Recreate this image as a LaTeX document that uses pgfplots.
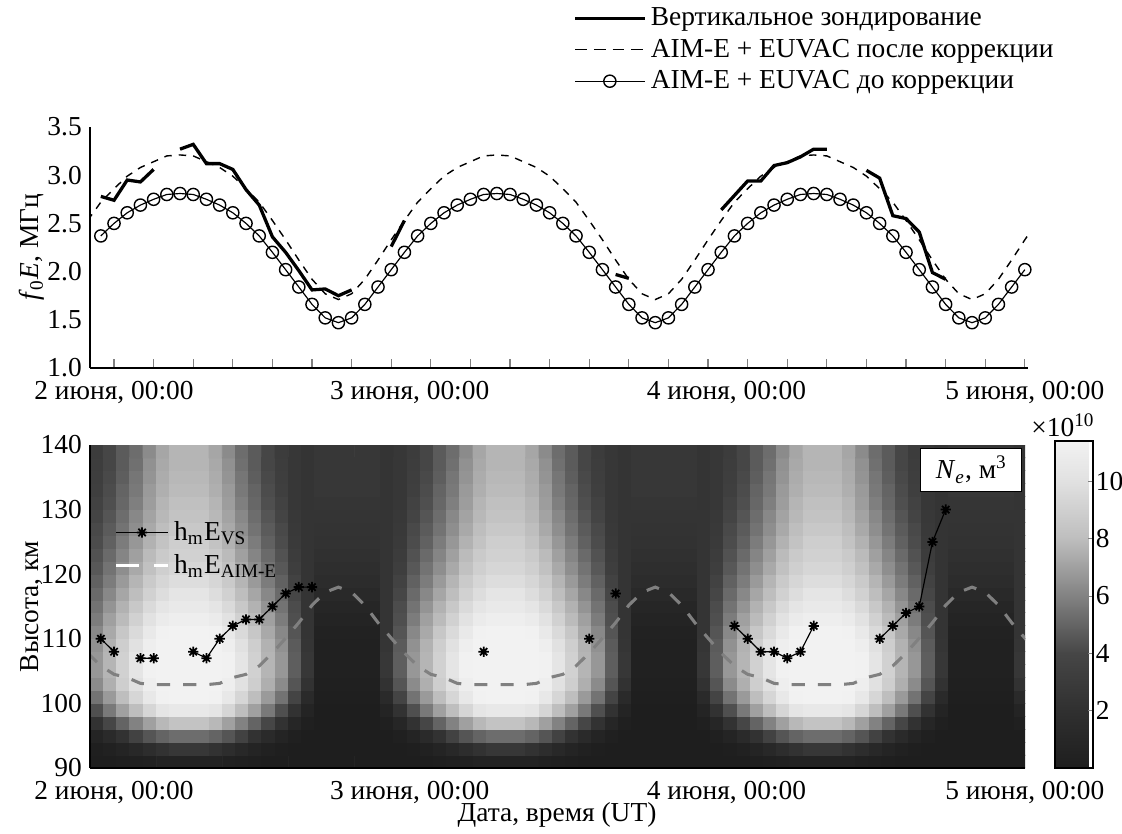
\documentclass[border=0pt]{standalone}
\usepackage{fontspec}
\setmainfont{Liberation Serif}
\usepackage{pgfplots}
\pgfplotsset{compat=1.18}
\usepackage{pgfplotstable}
\pgfplotsset{/pgf/number format/assume math mode=true}

% 8-armed asterisk like the MATLAB '*'
\pgfdeclareplotmark{ast8}{%
  \pgfpathmoveto{\pgfqpoint{-\pgfplotmarksize}{0pt}}\pgfpathlineto{\pgfqpoint{\pgfplotmarksize}{0pt}}%
  \pgfpathmoveto{\pgfqpoint{0pt}{-\pgfplotmarksize}}\pgfpathlineto{\pgfqpoint{0pt}{\pgfplotmarksize}}%
  \pgfpathmoveto{\pgfqpoint{-0.707\pgfplotmarksize}{-0.707\pgfplotmarksize}}\pgfpathlineto{\pgfqpoint{0.707\pgfplotmarksize}{0.707\pgfplotmarksize}}%
  \pgfpathmoveto{\pgfqpoint{-0.707\pgfplotmarksize}{0.707\pgfplotmarksize}}\pgfpathlineto{\pgfqpoint{0.707\pgfplotmarksize}{-0.707\pgfplotmarksize}}%
  \pgfusepathqstroke}

% one day of Ne (x10^10 m^-3): hour, height, value
\pgfplotstableread[row sep=\\]{
x y c\\
-1.3 91 0\\ -0.3 91 0\\ 0.7 91 0.1\\ 1.7 91 0.2\\ 2.7 91 0.3\\ 3.7 91 0.6\\ 4.7 91 0.6\\ 5.7 91 0.6\\ 6.7 91 0.6\\ 7.7 91 0.6\\ 8.7 91 0.3\\ 9.7 91 0.2\\ 10.7 91 0.1\\ 11.7 91 0\\ 12.7 91 0\\ 13.7 91 0\\ 14.7 91 0\\ 15.7 91 0\\ 16.7 91 0\\ 17.7 91 0\\ 18.7 91 0\\ 19.7 91 0\\ 20.7 91 0\\ 21.7 91 0\\
-1.3 93 0.1\\ -0.3 93 0.3\\ 0.7 93 0.7\\ 1.7 93 1.1\\ 2.7 93 1.7\\ 3.7 93 2.2\\ 4.7 93 2.6\\ 5.7 93 2.6\\ 6.7 93 2.6\\ 7.7 93 2.2\\ 8.7 93 1.7\\ 9.7 93 1.1\\ 10.7 93 0.7\\ 11.7 93 0.3\\ 12.7 93 0.1\\ 13.7 93 0\\ 14.7 93 0\\ 15.7 93 0\\ 16.7 93 0\\ 17.7 93 0\\ 18.7 93 0\\ 19.7 93 0\\ 20.7 93 0\\ 21.7 93 0\\
-1.3 95 0.7\\ -0.3 95 1.3\\ 0.7 95 2.2\\ 1.7 95 3.6\\ 2.7 95 4.5\\ 3.7 95 5.0\\ 4.7 95 5.3\\ 5.7 95 5.3\\ 6.7 95 5.3\\ 7.7 95 5.0\\ 8.7 95 4.5\\ 9.7 95 3.6\\ 10.7 95 2.2\\ 11.7 95 1.3\\ 12.7 95 0.7\\ 13.7 95 0.2\\ 14.7 95 0\\ 15.7 95 0\\ 16.7 95 0\\ 17.7 95 0\\ 18.7 95 0\\ 19.7 95 0\\ 20.7 95 0\\ 21.7 95 0.2\\
-1.3 97 2.2\\ -0.3 97 4.0\\ 0.7 97 5.0\\ 1.7 97 6.0\\ 2.7 97 7.0\\ 3.7 97 7.8\\ 4.7 97 8.3\\ 5.7 97 8.3\\ 6.7 97 8.3\\ 7.7 97 7.8\\ 8.7 97 7.0\\ 9.7 97 6.0\\ 10.7 97 5.0\\ 11.7 97 4.0\\ 12.7 97 2.2\\ 13.7 97 0.9\\ 14.7 97 0.2\\ 15.7 97 0\\ 16.7 97 0\\ 17.7 97 0\\ 18.7 97 0\\ 19.7 97 0\\ 20.7 97 0.2\\ 21.7 97 0.9\\
-1.3 99 4.3\\ -0.3 99 5.7\\ 0.7 99 7.0\\ 1.7 99 8.0\\ 2.7 99 9.4\\ 3.7 99 10.3\\ 4.7 99 10.6\\ 5.7 99 10.6\\ 6.7 99 10.6\\ 7.7 99 10.3\\ 8.7 99 9.4\\ 9.7 99 8.0\\ 10.7 99 7.0\\ 11.7 99 5.7\\ 12.7 99 4.3\\ 13.7 99 2.2\\ 14.7 99 0.7\\ 15.7 99 0\\ 16.7 99 0\\ 17.7 99 0\\ 18.7 99 0\\ 19.7 99 0\\ 20.7 99 0.7\\ 21.7 99 2.2\\
-1.3 101 5.5\\ -0.3 101 6.8\\ 0.7 101 8.0\\ 1.7 101 9.4\\ 2.7 101 10.6\\ 3.7 101 11.3\\ 4.7 101 11.4\\ 5.7 101 11.4\\ 6.7 101 11.4\\ 7.7 101 11.3\\ 8.7 101 10.6\\ 9.7 101 9.4\\ 10.7 101 8.0\\ 11.7 101 6.8\\ 12.7 101 5.5\\ 13.7 101 3.8\\ 14.7 101 1.3\\ 15.7 101 0.1\\ 16.7 101 0.1\\ 17.7 101 0.1\\ 18.7 101 0.1\\ 19.7 101 0.1\\ 20.7 101 1.3\\ 21.7 101 3.8\\
-1.3 103 6.3\\ -0.3 103 7.5\\ 0.7 103 8.9\\ 1.7 103 10.0\\ 2.7 103 11.1\\ 3.7 103 11.4\\ 4.7 103 11.4\\ 5.7 103 11.4\\ 6.7 103 11.4\\ 7.7 103 11.4\\ 8.7 103 11.1\\ 9.7 103 10.0\\ 10.7 103 8.9\\ 11.7 103 7.5\\ 12.7 103 6.3\\ 13.7 103 4.5\\ 14.7 103 2.2\\ 15.7 103 0.2\\ 16.7 103 0.2\\ 17.7 103 0.2\\ 18.7 103 0.2\\ 19.7 103 0.2\\ 20.7 103 2.2\\ 21.7 103 4.5\\
-1.3 105 6.7\\ -0.3 105 7.7\\ 0.7 105 9.1\\ 1.7 105 10.3\\ 2.7 105 11.3\\ 3.7 105 11.4\\ 4.7 105 11.4\\ 5.7 105 11.4\\ 6.7 105 11.4\\ 7.7 105 11.4\\ 8.7 105 11.3\\ 9.7 105 10.3\\ 10.7 105 9.1\\ 11.7 105 7.7\\ 12.7 105 6.7\\ 13.7 105 4.8\\ 14.7 105 2.6\\ 15.7 105 0.3\\ 16.7 105 0.3\\ 17.7 105 0.3\\ 18.7 105 0.3\\ 19.7 105 0.3\\ 20.7 105 2.6\\ 21.7 105 4.8\\
-1.3 107 6.7\\ -0.3 107 7.7\\ 0.7 107 9.1\\ 1.7 107 10.3\\ 2.7 107 11.3\\ 3.7 107 11.4\\ 4.7 107 11.4\\ 5.7 107 11.4\\ 6.7 107 11.4\\ 7.7 107 11.4\\ 8.7 107 11.3\\ 9.7 107 10.3\\ 10.7 107 9.1\\ 11.7 107 7.7\\ 12.7 107 6.7\\ 13.7 107 4.8\\ 14.7 107 2.6\\ 15.7 107 0.3\\ 16.7 107 0.3\\ 17.7 107 0.3\\ 18.7 107 0.3\\ 19.7 107 0.3\\ 20.7 107 2.6\\ 21.7 107 4.8\\
-1.3 109 6.5\\ -0.3 109 7.6\\ 0.7 109 8.9\\ 1.7 109 10.0\\ 2.7 109 11.1\\ 3.7 109 11.4\\ 4.7 109 11.4\\ 5.7 109 11.4\\ 6.7 109 11.4\\ 7.7 109 11.4\\ 8.7 109 11.1\\ 9.7 109 10.0\\ 10.7 109 8.9\\ 11.7 109 7.6\\ 12.7 109 6.5\\ 13.7 109 4.7\\ 14.7 109 2.5\\ 15.7 109 0.3\\ 16.7 109 0.3\\ 17.7 109 0.3\\ 18.7 109 0.3\\ 19.7 109 0.3\\ 20.7 109 2.5\\ 21.7 109 4.7\\
-1.3 111 6.2\\ -0.3 111 7.3\\ 0.7 111 8.5\\ 1.7 111 9.6\\ 2.7 111 10.7\\ 3.7 111 11.3\\ 4.7 111 11.4\\ 5.7 111 11.4\\ 6.7 111 11.4\\ 7.7 111 11.3\\ 8.7 111 10.7\\ 9.7 111 9.6\\ 10.7 111 8.5\\ 11.7 111 7.3\\ 12.7 111 6.2\\ 13.7 111 4.5\\ 14.7 111 2.4\\ 15.7 111 0.4\\ 16.7 111 0.4\\ 17.7 111 0.4\\ 18.7 111 0.4\\ 19.7 111 0.4\\ 20.7 111 2.4\\ 21.7 111 4.5\\
-1.3 113 5.8\\ -0.3 113 7.0\\ 0.7 113 7.9\\ 1.7 113 9.1\\ 2.7 113 10.1\\ 3.7 113 10.8\\ 4.7 113 11.1\\ 5.7 113 11.1\\ 6.7 113 11.1\\ 7.7 113 10.8\\ 8.7 113 10.1\\ 9.7 113 9.1\\ 10.7 113 7.9\\ 11.7 113 7.0\\ 12.7 113 5.8\\ 13.7 113 4.3\\ 14.7 113 2.4\\ 15.7 113 0.7\\ 16.7 113 0.7\\ 17.7 113 0.7\\ 18.7 113 0.7\\ 19.7 113 0.7\\ 20.7 113 2.4\\ 21.7 113 4.3\\
-1.3 115 5.5\\ -0.3 115 6.6\\ 0.7 115 7.6\\ 1.7 115 8.6\\ 2.7 115 9.6\\ 3.7 115 10.3\\ 4.7 115 10.7\\ 5.7 115 10.7\\ 6.7 115 10.7\\ 7.7 115 10.3\\ 8.7 115 9.6\\ 9.7 115 8.6\\ 10.7 115 7.6\\ 11.7 115 6.6\\ 12.7 115 5.5\\ 13.7 115 4.2\\ 14.7 115 2.4\\ 15.7 115 0.9\\ 16.7 115 0.9\\ 17.7 115 0.9\\ 18.7 115 0.9\\ 19.7 115 0.9\\ 20.7 115 2.4\\ 21.7 115 4.2\\
-1.3 117 5.2\\ -0.3 117 6.2\\ 0.7 117 7.2\\ 1.7 117 8.0\\ 2.7 117 9.1\\ 3.7 117 9.8\\ 4.7 117 10.3\\ 5.7 117 10.3\\ 6.7 117 10.3\\ 7.7 117 9.8\\ 8.7 117 9.1\\ 9.7 117 8.0\\ 10.7 117 7.2\\ 11.7 117 6.2\\ 12.7 117 5.2\\ 13.7 117 4.0\\ 14.7 117 2.4\\ 15.7 117 1.2\\ 16.7 117 1.2\\ 17.7 117 1.2\\ 18.7 117 1.2\\ 19.7 117 1.2\\ 20.7 117 2.4\\ 21.7 117 4.0\\
-1.3 119 4.9\\ -0.3 119 5.8\\ 0.7 119 6.8\\ 1.7 119 7.7\\ 2.7 119 8.7\\ 3.7 119 9.4\\ 4.7 119 9.8\\ 5.7 119 9.8\\ 6.7 119 9.8\\ 7.7 119 9.4\\ 8.7 119 8.7\\ 9.7 119 7.7\\ 10.7 119 6.8\\ 11.7 119 5.8\\ 12.7 119 4.9\\ 13.7 119 3.6\\ 14.7 119 2.4\\ 15.7 119 1.6\\ 16.7 119 1.6\\ 17.7 119 1.6\\ 18.7 119 1.6\\ 19.7 119 1.6\\ 20.7 119 2.4\\ 21.7 119 3.6\\
-1.3 121 4.6\\ -0.3 121 5.5\\ 0.7 121 6.4\\ 1.7 121 7.3\\ 2.7 121 8.2\\ 3.7 121 9.0\\ 4.7 121 9.4\\ 5.7 121 9.4\\ 6.7 121 9.4\\ 7.7 121 9.0\\ 8.7 121 8.2\\ 9.7 121 7.3\\ 10.7 121 6.4\\ 11.7 121 5.5\\ 12.7 121 4.6\\ 13.7 121 3.3\\ 14.7 121 2.4\\ 15.7 121 1.8\\ 16.7 121 1.8\\ 17.7 121 1.8\\ 18.7 121 1.8\\ 19.7 121 1.8\\ 20.7 121 2.4\\ 21.7 121 3.3\\
-1.3 123 4.4\\ -0.3 123 5.2\\ 0.7 123 6.1\\ 1.7 123 7.0\\ 2.7 123 7.9\\ 3.7 123 8.7\\ 4.7 123 9.1\\ 5.7 123 9.1\\ 6.7 123 9.1\\ 7.7 123 8.7\\ 8.7 123 7.9\\ 9.7 123 7.0\\ 10.7 123 6.1\\ 11.7 123 5.2\\ 12.7 123 4.4\\ 13.7 123 3.1\\ 14.7 123 2.4\\ 15.7 123 2.0\\ 16.7 123 2.0\\ 17.7 123 2.0\\ 18.7 123 2.0\\ 19.7 123 2.0\\ 20.7 123 2.4\\ 21.7 123 3.1\\
-1.3 125 4.2\\ -0.3 125 4.9\\ 0.7 125 5.8\\ 1.7 125 6.7\\ 2.7 125 7.6\\ 3.7 125 8.3\\ 4.7 125 8.9\\ 5.7 125 8.9\\ 6.7 125 8.9\\ 7.7 125 8.3\\ 8.7 125 7.6\\ 9.7 125 6.7\\ 10.7 125 5.8\\ 11.7 125 4.9\\ 12.7 125 4.2\\ 13.7 125 2.9\\ 14.7 125 2.4\\ 15.7 125 2.2\\ 16.7 125 2.2\\ 17.7 125 2.2\\ 18.7 125 2.2\\ 19.7 125 2.2\\ 20.7 125 2.4\\ 21.7 125 2.9\\
-1.3 127 4.1\\ -0.3 127 4.7\\ 0.7 127 5.5\\ 1.7 127 6.4\\ 2.7 127 7.3\\ 3.7 127 8.0\\ 4.7 127 8.6\\ 5.7 127 8.6\\ 6.7 127 8.6\\ 7.7 127 8.0\\ 8.7 127 7.3\\ 9.7 127 6.4\\ 10.7 127 5.5\\ 11.7 127 4.7\\ 12.7 127 4.1\\ 13.7 127 2.8\\ 14.7 127 2.4\\ 15.7 127 2.3\\ 16.7 127 2.3\\ 17.7 127 2.3\\ 18.7 127 2.3\\ 19.7 127 2.3\\ 20.7 127 2.4\\ 21.7 127 2.8\\
-1.3 129 3.8\\ -0.3 129 4.5\\ 0.7 129 5.3\\ 1.7 129 6.2\\ 2.7 129 7.1\\ 3.7 129 7.8\\ 4.7 129 8.3\\ 5.7 129 8.3\\ 6.7 129 8.3\\ 7.7 129 7.8\\ 8.7 129 7.1\\ 9.7 129 6.2\\ 10.7 129 5.3\\ 11.7 129 4.5\\ 12.7 129 3.8\\ 13.7 129 2.7\\ 14.7 129 2.4\\ 15.7 129 2.4\\ 16.7 129 2.4\\ 17.7 129 2.4\\ 18.7 129 2.4\\ 19.7 129 2.4\\ 20.7 129 2.4\\ 21.7 129 2.7\\
-1.3 131 3.6\\ -0.3 131 4.3\\ 0.7 131 5.1\\ 1.7 131 5.9\\ 2.7 131 6.9\\ 3.7 131 7.7\\ 4.7 131 8.1\\ 5.7 131 8.1\\ 6.7 131 8.1\\ 7.7 131 7.7\\ 8.7 131 6.9\\ 9.7 131 5.9\\ 10.7 131 5.1\\ 11.7 131 4.3\\ 12.7 131 3.6\\ 13.7 131 2.6\\ 14.7 131 2.4\\ 15.7 131 2.5\\ 16.7 131 2.5\\ 17.7 131 2.5\\ 18.7 131 2.5\\ 19.7 131 2.5\\ 20.7 131 2.4\\ 21.7 131 2.6\\
-1.3 133 3.4\\ -0.3 133 4.2\\ 0.7 133 5.0\\ 1.7 133 5.7\\ 2.7 133 6.8\\ 3.7 133 7.5\\ 4.7 133 7.9\\ 5.7 133 7.9\\ 6.7 133 7.9\\ 7.7 133 7.5\\ 8.7 133 6.8\\ 9.7 133 5.7\\ 10.7 133 5.0\\ 11.7 133 4.2\\ 12.7 133 3.4\\ 13.7 133 2.6\\ 14.7 133 2.4\\ 15.7 133 2.6\\ 16.7 133 2.6\\ 17.7 133 2.6\\ 18.7 133 2.6\\ 19.7 133 2.6\\ 20.7 133 2.4\\ 21.7 133 2.6\\
-1.3 135 3.3\\ -0.3 135 4.1\\ 0.7 135 4.8\\ 1.7 135 5.6\\ 2.7 135 6.6\\ 3.7 135 7.4\\ 4.7 135 7.8\\ 5.7 135 7.8\\ 6.7 135 7.8\\ 7.7 135 7.4\\ 8.7 135 6.6\\ 9.7 135 5.6\\ 10.7 135 4.8\\ 11.7 135 4.1\\ 12.7 135 3.3\\ 13.7 135 2.6\\ 14.7 135 2.4\\ 15.7 135 2.6\\ 16.7 135 2.6\\ 17.7 135 2.6\\ 18.7 135 2.6\\ 19.7 135 2.6\\ 20.7 135 2.4\\ 21.7 135 2.6\\
-1.3 137 3.2\\ -0.3 137 4.0\\ 0.7 137 4.7\\ 1.7 137 5.4\\ 2.7 137 6.5\\ 3.7 137 7.3\\ 4.7 137 7.7\\ 5.7 137 7.7\\ 6.7 137 7.7\\ 7.7 137 7.3\\ 8.7 137 6.5\\ 9.7 137 5.4\\ 10.7 137 4.7\\ 11.7 137 4.0\\ 12.7 137 3.2\\ 13.7 137 2.6\\ 14.7 137 2.4\\ 15.7 137 2.6\\ 16.7 137 2.6\\ 17.7 137 2.6\\ 18.7 137 2.6\\ 19.7 137 2.6\\ 20.7 137 2.4\\ 21.7 137 2.6\\
-1.3 139 3.1\\ -0.3 139 4.0\\ 0.7 139 4.7\\ 1.7 139 5.3\\ 2.7 139 6.3\\ 3.7 139 7.2\\ 4.7 139 7.7\\ 5.7 139 7.7\\ 6.7 139 7.7\\ 7.7 139 7.2\\ 8.7 139 6.3\\ 9.7 139 5.3\\ 10.7 139 4.7\\ 11.7 139 4.0\\ 12.7 139 3.1\\ 13.7 139 2.6\\ 14.7 139 2.4\\ 15.7 139 2.6\\ 16.7 139 2.6\\ 17.7 139 2.6\\ 18.7 139 2.6\\ 19.7 139 2.6\\ 20.7 139 2.4\\ 21.7 139 2.6\\
}\neday

\begin{document}
\begin{tikzpicture}[font=\fontsize{11.7}{13.5}\selectfont]
\useasboundingbox (0,0) rectangle (16.83,12.495);

% ---------- top: f0E ----------
\begin{axis}[
  scale only axis, at={(1.35cm,6.975cm)}, anchor=south west,
  width=14.07cm, height=3.615cm,
  xmin=-1.82, xmax=69.24, ymin=1, ymax=3.5,
  axis x line*=bottom, axis y line*=left,
  axis line style={line width=0.6pt},
  xtick={0,22.4,46.4,69},
  xticklabels={{2 июня, 00:00},{3 июня, 00:00},{4 июня, 00:00},{5 июня, 00:00}},
  xticklabel style={inner ysep=0pt, yshift=-5.6pt},
  minor xtick={0,3,...,69},
  major x tick style={draw=none},
  minor x tick style={line width=0.5pt},
  minor tick length=0.14cm, tick align=inside,
  ytick={1,1.5,...,3.5}, major y tick style={draw=none},
  yticklabel style={inner ysep=0pt, /pgf/number format/fixed, /pgf/number format/fixed zerofill, /pgf/number format/precision=1},
  ylabel={\textit{f}\textsubscript{0}\textit{E}, МГц},
  ylabel style={at={(axis description cs:-0.062,0.5)}, anchor=center},
  unbounded coords=jump, clip mode=individual,
  legend style={at={(0.515,1.517)}, anchor=north west, draw=none, fill=none, inner sep=0pt, row sep=0.2pt},
  legend cell align=left,
  legend image code/.code={\draw[mark repeat=2,mark phase=2,#1] plot coordinates {(0cm,0cm) (0.52cm,0cm) (1.04cm,0cm)};},
]
\addplot[black, line width=0.5pt, mark=o, mark size=2.6pt, mark options={solid, line width=0.6pt}, forget plot] coordinates {
(-1,2.37) (0,2.50) (1,2.61) (2,2.69) (3,2.75) (4,2.80) (5,2.81) (6,2.80) (7,2.75) (8,2.69) (9,2.61) (10,2.50) (11,2.37) (12,2.20) (13,2.02) (14,1.84) (15,1.66) (16,1.52) (17,1.47) (18,1.52) (19,1.66) (20,1.84) (21,2.02) (22,2.20)
(23,2.37) (24,2.50) (25,2.61) (26,2.69) (27,2.75) (28,2.80) (29,2.81) (30,2.80) (31,2.75) (32,2.69) (33,2.61) (34,2.50) (35,2.37) (36,2.20) (37,2.02) (38,1.84) (39,1.66) (40,1.52) (41,1.47) (42,1.52) (43,1.66) (44,1.84) (45,2.02) (46,2.20)
(47,2.37) (48,2.50) (49,2.61) (50,2.69) (51,2.75) (52,2.80) (53,2.81) (54,2.80) (55,2.75) (56,2.69) (57,2.61) (58,2.50) (59,2.37) (60,2.20) (61,2.02) (62,1.84) (63,1.66) (64,1.52) (65,1.47) (66,1.52) (67,1.66) (68,1.84) (69,2.02)};
\addplot[black, line width=0.6pt, dash pattern=on 3.2pt off 3pt, forget plot] coordinates {
(-2,2.53) (-1,2.72) (0,2.86) (1,2.99) (2,3.08) (3,3.14) (4,3.20) (5,3.21) (6,3.20) (7,3.14) (8,3.08) (9,2.99) (10,2.86) (11,2.72) (12,2.53) (13,2.33) (14,2.12) (15,1.92) (16,1.77) (17,1.71) (18,1.77) (19,1.92) (20,2.12) (21,2.33)
(22,2.53) (23,2.72) (24,2.86) (25,2.99) (26,3.08) (27,3.14) (28,3.20) (29,3.21) (30,3.20) (31,3.14) (32,3.08) (33,2.99) (34,2.86) (35,2.72) (36,2.53) (37,2.33) (38,2.12) (39,1.92) (40,1.77) (41,1.71) (42,1.77) (43,1.92) (44,2.12) (45,2.33)
(46,2.53) (47,2.72) (48,2.86) (49,2.99) (50,3.08) (51,3.14) (52,3.20) (53,3.21) (54,3.20) (55,3.14) (56,3.08) (57,2.99) (58,2.86) (59,2.72) (60,2.53) (61,2.33) (62,2.12) (63,1.92) (64,1.77) (65,1.71) (66,1.77) (67,1.92) (68,2.12) (69,2.33) (70,2.53)};
\addplot[black, line width=1.4pt] coordinates {
(-1,2.78) (0,2.74) (1,2.95) (2,2.93) (3,3.06) (4,nan)
(5,3.27) (6,3.32) (7,3.12) (8,3.12) (9,3.06) (10,2.85) (11,2.69) (12,2.36) (13,2.20) (14,2.01) (15,1.81) (16,1.82) (17,1.75) (18,1.81) (19,nan)
(21,2.26) (22,2.53) (23,nan) (38,1.97) (39,1.93) (40,nan)
(46,2.64) (47,2.79) (48,2.94) (49,2.94) (50,3.10) (51,3.13) (52,3.19) (53,3.27) (54,3.27) (55,nan)
(57,3.05) (58,2.97) (59,2.58) (60,2.55) (61,2.41) (62,1.99) (63,1.92)};
\addlegendentry{Вертикальное зондирование}
\addlegendimage{black, line width=0.6pt, dash pattern=on 5pt off 3pt}
\addlegendentry{AIM-E + EUVAC после коррекции}
\addlegendimage{black, line width=0.5pt, mark=o, mark size=2.6pt, mark options={solid, line width=0.6pt}}
\addlegendentry{AIM-E + EUVAC до коррекции}
\end{axis}

% ---------- bottom: Ne heat map ----------
\begin{axis}[
  scale only axis, at={(1.35cm,0.975cm)}, anchor=south west,
  width=14.025cm, height=4.845cm,
  xmin=-1.82, xmax=69.01, ymin=90, ymax=140,
  axis on top, axis x line*=bottom, axis y line*=left,
  axis line style={line width=0.6pt},
  xtick={0,22.4,46.4,69},
  xticklabels={{2 июня, 00:00},{3 июня, 00:00},{4 июня, 00:00},{5 июня, 00:00}},
  xticklabel style={inner ysep=0pt, yshift=-5.6pt},
  xtick style={draw=none},
  ytick={90,100,...,140}, ytick style={draw=none},
  yticklabel style={inner ysep=0pt},
  xlabel={Дата, время (UT)},
  xlabel style={at={(axis description cs:0.4995,-0.145)}, anchor=center},
  ylabel={Высота, км},
  ylabel style={at={(axis description cs:-0.062,0.5)}, anchor=center},
  colormap={negray}{gray(0pt)=(0.118); gray(20pt)=(0.188); gray(40pt)=(0.275); gray(60pt)=(0.51); gray(80pt)=(0.745); gray(100pt)=(0.882); gray(114pt)=(0.949)},
  point meta min=0, point meta max=11.4,
  colorbar,
  colorbar shift/.style={xshift=0.45cm, yshift=0.06cm},
  colorbar style={at={(parent axis.north east)}, anchor=north west,
    scale only axis, width=0.57cm, height=4.905cm,
    ytick={2,4,6,8,10}, ytick pos=right, yticklabel pos=right,
    yticklabel style={inner xsep=1pt},
    tick align=inside, major tick length=0.08cm,
    axis line style={line width=0.5pt}},
  unbounded coords=jump,
  legend style={at={(0.0257,0.78)}, anchor=north west, draw=none, fill=none, inner sep=0pt, row sep=0.6pt},
  legend cell align=left,
  legend image code/.code={\draw[mark repeat=2,mark phase=2,#1] plot coordinates {(0cm,0cm) (0.39cm,0cm) (0.78cm,0cm)};},
]
\addplot[matrix plot*, mesh/cols=24, point meta=explicit, forget plot] table[x=x, y=y, meta=c] {\neday};
\addplot[matrix plot*, mesh/cols=24, point meta=explicit, forget plot] table[x expr=\thisrow{x}+24, y=y, meta=c] {\neday};
\addplot[matrix plot*, mesh/cols=24, point meta=explicit, forget plot] table[x expr=\thisrow{x}+48, y=y, meta=c] {\neday};
\addplot[black!50, line width=1.3pt, dash pattern=on 5.6pt off 5.6pt, forget plot] coordinates {
(-2,107.8) (-1,105.8) (0,104.5) (1,104.0) (2,103.1) (3,102.9) (4,102.9) (5,102.9) (6,102.9) (7,102.9) (8,103.1) (9,104.0) (10,104.5) (11,105.8) (12,107.8) (13,110.1) (14,112.5) (15,115.2) (16,117.2) (17,118.0) (18,117.2) (19,115.2) (20,112.5) (21,110.1)
(22,107.8) (23,105.8) (24,104.5) (25,104.0) (26,103.1) (27,102.9) (28,102.9) (29,102.9) (30,102.9) (31,102.9) (32,103.1) (33,104.0) (34,104.5) (35,105.8) (36,107.8) (37,110.1) (38,112.5) (39,115.2) (40,117.2) (41,118.0) (42,117.2) (43,115.2) (44,112.5) (45,110.1)
(46,107.8) (47,105.8) (48,104.5) (49,104.0) (50,103.1) (51,102.9) (52,102.9) (53,102.9) (54,102.9) (55,102.9) (56,103.1) (57,104.0) (58,104.5) (59,105.8) (60,107.8) (61,110.1) (62,112.5) (63,115.2) (64,117.2) (65,118.0) (66,117.2) (67,115.2) (68,112.5) (69,110.1) (70,107.8)};
\addplot[black, line width=0.5pt, mark=ast8, mark size=2.2pt, mark options={line width=0.75pt}] coordinates {
(-1,110) (0,108) (1,nan) (2,107) (3,107) (4,nan)
(6,108) (7,107) (8,110) (9,112) (10,113) (11,113) (12,115) (13,117) (14,118) (15,118) (16,nan)
(28,108) (29,nan) (36,110) (37,nan) (38,117) (39,nan)
(47,112) (48,110) (49,108) (50,108) (51,107) (52,108) (53,112) (54,nan)
(58,110) (59,112) (60,114) (61,115) (62,125) (63,130)};
\addlegendentry{h\textsubscript{m}E\textsubscript{VS}}
\addlegendimage{white, line width=1.3pt, dash pattern=on 9.8pt off 6.4pt}
\addlegendentry{h\textsubscript{m}E\textsubscript{AIM-E}}
\end{axis}

\node[draw=black, fill=white, line width=0.5pt, minimum width=1.515cm, minimum height=0.645cm, inner sep=0pt] at (14.57,5.45) {\textit{N}\textsubscript{\textit{e}}, м\textsuperscript{3}};
\node at (15.945,6.12) {×10\textsuperscript{10}};
\end{tikzpicture}
\end{document}
